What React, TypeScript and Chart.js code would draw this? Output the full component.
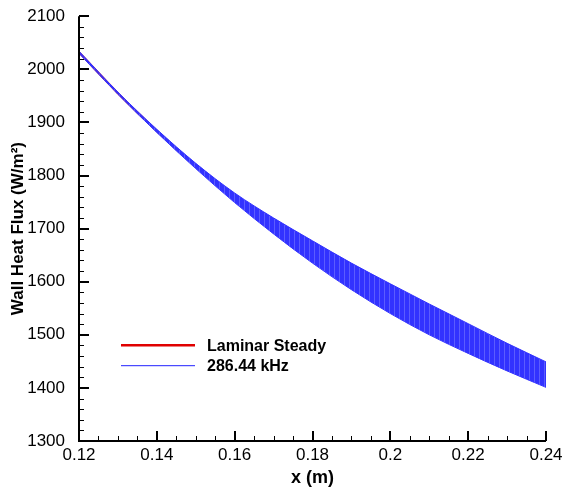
import React, { useEffect, useRef } from "react";
import { Chart, registerables } from "chart.js";

Chart.register(...registerables);

// ---- data ----
const xValues = [0.12, 0.13, 0.14, 0.15, 0.16, 0.17, 0.18, 0.19, 0.2, 0.21, 0.22, 0.23, 0.24];
const steadyFlux = [2032, 1955, 1884, 1818, 1758, 1705, 1656, 1610, 1568, 1529, 1493, 1458, 1425];
const unsteadyUpper = [2034, 1957, 1887, 1823, 1767, 1720, 1677, 1635, 1596, 1558, 1521, 1484, 1449];
const unsteadyLower = [2030, 1953, 1881, 1813, 1749, 1690, 1635, 1585, 1540, 1500, 1465, 1432, 1401];

const xTickValues = [0.12, 0.14, 0.16, 0.18, 0.2, 0.22, 0.24];
const xTickLabels = ["0.12", "0.14", "0.16", "0.18", "0.2", "0.22", "0.24"];
const yTickValues = [1300, 1400, 1500, 1600, 1700, 1800, 1900, 2000, 2100];
const yTickLabels = ["1300", "1400", "1500", "1600", "1700", "1800", "1900", "2000", "2100"];
const xMinorStep = 0.005;
const yMinorStep = 20;

const seriesLabels = ["Laminar Steady", "286.44 kHz"];

const FONT = "'Liberation Sans', Arial, Helvetica, sans-serif";

function makeStripePattern(): CanvasPattern | string {
  const c = document.createElement("canvas");
  c.width = 5;
  c.height = 4;
  const g = c.getContext("2d");
  if (!g) return "#3333ff";
  g.fillStyle = "#3232ff";
  g.fillRect(0, 0, 5, 4);
  g.fillStyle = "#5c5cff";
  g.fillRect(4, 0, 1, 4);
  const p = g.createPattern(c, "repeat");
  return p || "#3333ff";
}

const axesPlugin = {
  id: "inwardAxes",
  afterDatasetsDraw(chart: any) {
    const { ctx, chartArea, scales } = chart;
    const xs = scales.x;
    const ys = scales.y;
    ctx.save();
    ctx.strokeStyle = "#000";
    ctx.lineCap = "butt";
    ctx.lineWidth = 2;
    ctx.beginPath();
    ctx.moveTo(chartArea.left, chartArea.top);
    ctx.lineTo(chartArea.left, chartArea.bottom + 1);
    ctx.moveTo(chartArea.left - 1, chartArea.bottom);
    ctx.lineTo(chartArea.right, chartArea.bottom);
    ctx.stroke();
    const nx = Math.round((xs.max - xs.min) / xMinorStep);
    for (let i = 0; i <= nx; i++) {
      const v = xs.min + i * xMinorStep;
      const major = i % 4 === 0;
      const px = Math.round(xs.getPixelForValue(v));
      ctx.lineWidth = major ? 2 : 1;
      const off = major ? 0 : 0.5;
      ctx.beginPath();
      ctx.moveTo(px + off, chartArea.bottom);
      ctx.lineTo(px + off, chartArea.bottom - (major ? 10 : 5));
      ctx.stroke();
    }
    const ny = Math.round((ys.max - ys.min) / yMinorStep);
    for (let i = 0; i <= ny; i++) {
      const v = ys.min + i * yMinorStep;
      const major = i % 5 === 0;
      const py = Math.round(ys.getPixelForValue(v));
      ctx.lineWidth = major ? 2 : 1;
      const off = major ? 0 : 0.5;
      ctx.beginPath();
      ctx.moveTo(chartArea.left, py + off);
      ctx.lineTo(chartArea.left + (major ? 10 : 5), py + off);
      ctx.stroke();
    }
    ctx.restore();
  },
};

const legendPlugin = {
  id: "insideLegend",
  afterDraw(chart: any) {
    const { ctx, chartArea } = chart;
    const x0 = chartArea.left + 42;
    const x1 = chartArea.left + 116;
    const tx = chartArea.left + 128;
    const y0 = chartArea.top + 329;
    const y1 = chartArea.top + 349;
    ctx.save();
    ctx.strokeStyle = "#e00000";
    ctx.lineWidth = 2.5;
    ctx.beginPath();
    ctx.moveTo(x0, y0);
    ctx.lineTo(x1, y0);
    ctx.stroke();
    ctx.strokeStyle = "#2020ff";
    ctx.lineWidth = 1;
    ctx.beginPath();
    ctx.moveTo(x0, y1 + 0.5);
    ctx.lineTo(x1, y1 + 0.5);
    ctx.stroke();
    ctx.fillStyle = "#000";
    ctx.font = `bold 16px ${FONT}`;
    ctx.textBaseline = "middle";
    ctx.textAlign = "left";
    ctx.fillText(seriesLabels[0], tx, y0 + 1);
    ctx.fillText(seriesLabels[1], tx, y1 + 1);
    ctx.restore();
  },
};

export default function App() {
  const canvasRef = useRef<HTMLCanvasElement | null>(null);

  useEffect(() => {
    const canvas = canvasRef.current;
    if (!canvas) return;
    const blueFill = makeStripePattern();
    const chart = new Chart(canvas, {
      type: "line",
      data: {
        datasets: [
          {
            label: seriesLabels[0],
            data: xValues.map((x, i) => ({ x, y: steadyFlux[i] })),
            borderColor: "#e00000",
            borderWidth: 2,
            pointRadius: 0,
            cubicInterpolationMode: "monotone",
            fill: false,
            order: 3,
          },
          {
            label: seriesLabels[1],
            data: xValues.map((x, i) => ({ x, y: unsteadyUpper[i] })),
            borderColor: "#3232ff",
            borderWidth: 1,
            pointRadius: 0,
            cubicInterpolationMode: "monotone",
            fill: "+1",
            backgroundColor: blueFill as any,
            order: 1,
          },
          {
            label: "",
            data: xValues.map((x, i) => ({ x, y: unsteadyLower[i] })),
            borderColor: "#3232ff",
            borderWidth: 1,
            pointRadius: 0,
            cubicInterpolationMode: "monotone",
            fill: false,
            order: 2,
          },
        ],
      },
      options: {
        responsive: false,
        animation: false,
        devicePixelRatio: 1,
        layout: { padding: { left: 0, top: 15, right: 25, bottom: 0 } },
        plugins: {
          legend: { display: false },
          tooltip: { enabled: false },
        },
        scales: {
          x: {
            type: "linear",
            min: 0.12,
            max: 0.24,
            grid: { display: false },
            border: { display: false },
            afterBuildTicks: (scale: any) => {
              scale.ticks = xTickValues.map((v) => ({ value: v }));
            },
            afterFit: (scale: any) => {
              scale.height = 49;
            },
            ticks: {
              autoSkip: false,
              maxRotation: 0,
              padding: -4,
              color: "#000",
              font: { family: FONT, size: 17 },
              callback: (_v: any, index: number) => xTickLabels[index],
            },
            title: {
              display: true,
              text: "x (m)",
              color: "#000",
              font: { family: FONT, size: 18, weight: "bold" },
              padding: { top: 0, bottom: 1 },
            },
          },
          y: {
            type: "linear",
            min: 1300,
            max: 2100,
            grid: { display: false },
            border: { display: false },
            afterBuildTicks: (scale: any) => {
              scale.ticks = yTickValues.map((v) => ({ value: v }));
            },
            afterFit: (scale: any) => {
              scale.width = 79;
            },
            ticks: {
              autoSkip: false,
              padding: 6,
              color: "#000",
              font: { family: FONT, size: 17 },
              callback: (_v: any, index: number) => yTickLabels[index],
            },
            title: {
              display: true,
              text: "Wall Heat Flux (W/m²)",
              color: "#000",
              font: { family: FONT, size: 17, weight: "bold" },
              padding: { top: 8, bottom: 0 },
            },
          },
        },
      } as any,
      plugins: [axesPlugin, legendPlugin],
    });
    return () => chart.destroy();
  }, []);

  return (
    <div style={{ position: "absolute", left: 0, top: 0, width: 571, height: 490, background: "#fff" }}>
      <canvas ref={canvasRef} width={571} height={490} style={{ width: 571, height: 490, display: "block" }} />
    </div>
  );
}
